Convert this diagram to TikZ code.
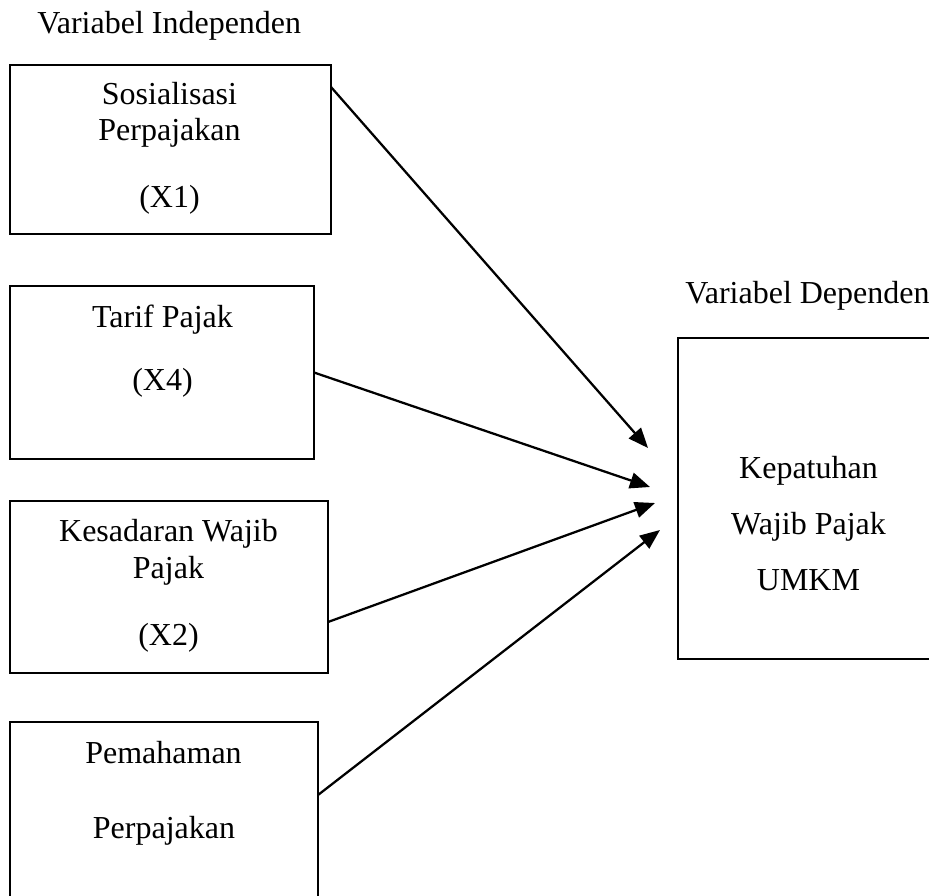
\documentclass[tikz,border=0pt]{standalone}
\usepackage{fontspec}
\setmainfont{Liberation Serif}
\usetikzlibrary{arrows.meta,calc}
\tikzset{
  varbox/.style={draw=black,line width=0.8pt,rectangle,inner sep=0pt,outer sep=0pt},
  lbl/.style={inner sep=0pt,anchor=base,font=\fontsize{24pt}{28pt}\selectfont},
  hdr/.style={inner sep=0pt,anchor=base west,font=\fontsize{24pt}{28pt}\selectfont},
  link/.style={line width=1.7pt,-{Triangle[length=15pt,width=12pt]}}
}
\begin{document}
\begin{tikzpicture}[x=0.75pt,y=-0.75pt]
\useasboundingbox (0,0) rectangle (929,896);
\clip (0,0) rectangle (929,896);
\fill[white] (0,0) rectangle (929,896);

% headers
\node[hdr] (hin) at (37,33) {Variabel Independen};
\node[hdr] (hdep) at (685,303) {Variabel Dependen};

% boxes
\node[varbox,minimum width=240.75pt,minimum height=126.75pt] (b1) at (170.5,149.5) {};
\node[varbox,minimum width=228pt,minimum height=129.75pt] (b2) at (162,372.5) {};
\node[varbox,minimum width=238.5pt,minimum height=129pt] (b3) at (169,587) {};
\node[varbox,minimum width=231pt,minimum height=171pt] (b4) at (164,836) {};
\node[varbox,minimum width=241.5pt,minimum height=240.75pt] (dep) at (839,498.5) {};

% box texts
\node[lbl] (s1) at (169.5,104) {Sosialisasi};
\node[lbl] (s2) at (169.5,140) {Perpajakan};
\node[lbl] (s3) at (169.5,207) {(X1)};

\node[lbl] (t1a) at (162.5,327) {Tarif Pajak};
\node[lbl] (t1b) at (162.5,390) {(X4)};

\node[lbl] (k1) at (168.5,541) {Kesadaran Wajib};
\node[lbl] (k2) at (168.5,578) {Pajak};
\node[lbl] (k3) at (168.5,645) {(X2)};

\node[lbl] (p1) at (163.5,763) {Pemahaman};
\node[lbl] (p2) at (164,838) {Perpajakan};

\node[lbl] (d1) at (808.5,478) {Kepatuhan};
\node[lbl] (d2) at (808.5,534) {Wajib Pajak};
\node[lbl] (d3) at (808.5,590) {UMKM};

% arrow tips
\coordinate (e1) at (648,448);
\coordinate (e2) at (650,487);
\coordinate (e3) at (655,503);
\coordinate (e4) at (660,530);

% connectors
\draw[link] ($(b1.north east)+(0,22)$) -- (e1);
\draw[link] (b2.east) -- (e2);
\draw[link] ($(b3.north east)+(0,121)$) -- (e3);
\draw[link] ($(b4.north east)+(0,73)$) -- (e4);
\end{tikzpicture}
\end{document}
